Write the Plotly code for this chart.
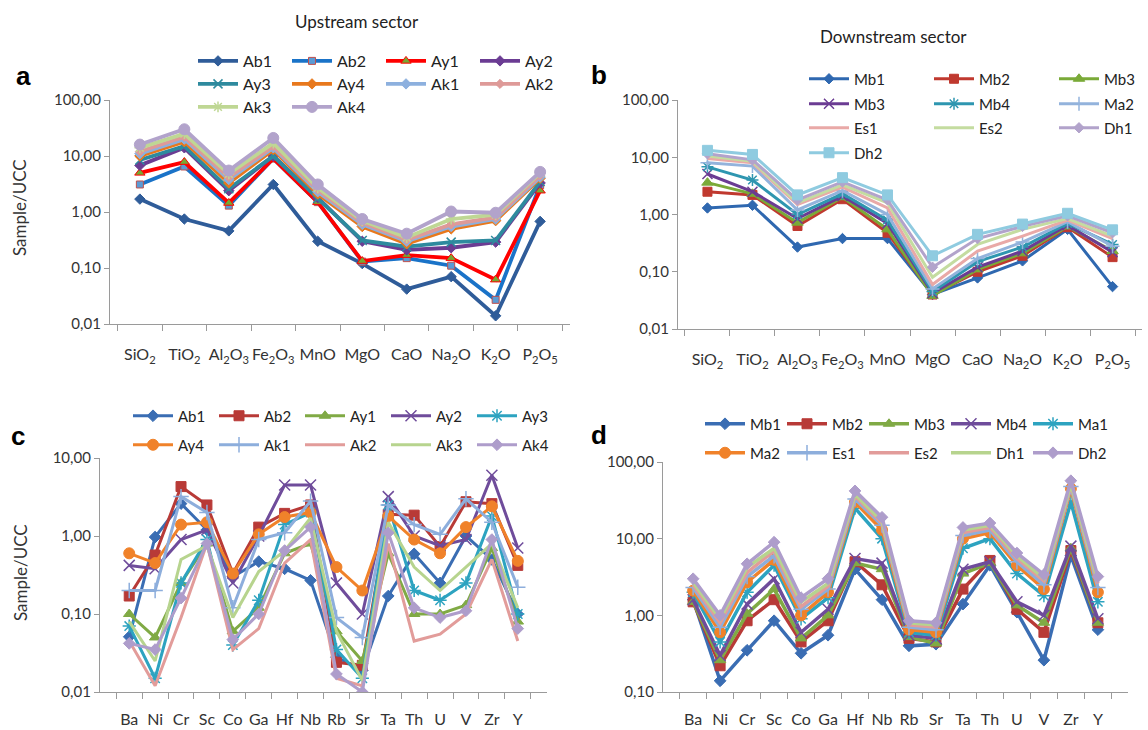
import plotly.graph_objects as go

W, H = 1148, 730

# ---------------- categories ----------------
major_cats = ["SiO<sub>2</sub>", "TiO<sub>2</sub>", "Al<sub>2</sub>O<sub>3</sub>", "Fe<sub>2</sub>O<sub>3</sub>",
              "MnO", "MgO", "CaO", "Na<sub>2</sub>O", "K<sub>2</sub>O", "P<sub>2</sub>O<sub>5</sub>"]
trace_cats = ["Ba", "Ni", "Cr", "Sc", "Co", "Ga", "Hf", "Nb", "Rb", "Sr", "Ta", "Th", "U", "V", "Zr", "Y"]

# ---------------- panel a : upstream, major elements ----------------
a_names = ["Ab1", "Ab2", "Ay1", "Ay2", "Ay3", "Ay4", "Ak1", "Ak2", "Ak3", "Ak4"]
a_Ab1 = [1.7, 0.75, 0.46, 3.1, 0.30, 0.12, 0.042, 0.07, 0.014, 0.68]
a_Ab2 = [3.1, 6.5, 1.3, 9.0, 1.5, 0.13, 0.15, 0.11, 0.027, 3.0]
a_Ay1 = [5.0, 7.8, 1.45, 9.0, 1.5, 0.133, 0.17, 0.15, 0.062, 2.4]
a_Ay2 = [6.8, 14.0, 2.4, 10.0, 1.8, 0.30, 0.21, 0.23, 0.29, 3.3]
a_Ay3 = [8.5, 15.0, 2.6, 10.0, 1.75, 0.31, 0.24, 0.29, 0.31, 3.5]
a_Ay4 = [10.0, 18.0, 3.3, 13.0, 2.1, 0.55, 0.27, 0.50, 0.70, 4.0]
a_Ak1 = [11.0, 20.0, 3.8, 14.0, 2.3, 0.60, 0.30, 0.55, 0.75, 4.2]
a_Ak2 = [12.0, 22.0, 4.2, 15.0, 2.5, 0.65, 0.32, 0.60, 0.80, 4.5]
a_Ak3 = [14.0, 25.0, 4.8, 17.0, 2.7, 0.70, 0.35, 0.75, 0.90, 5.0]
a_Ak4 = [16.0, 30.0, 5.5, 21.0, 3.1, 0.75, 0.41, 1.02, 0.97, 5.2]

# ---------------- panel b : downstream, major elements ----------------
b_names = ["Mb1", "Mb2", "Mb3", "Mb3 ", "Mb4", "Ma2", "Es1", "Es2", "Dh1", "Dh2"]
b_Mb1 = [1.3, 1.45, 0.27, 0.38, 0.38, 0.040, 0.078, 0.155, 0.55, 0.055]
b_Mb2 = [2.5, 2.2, 0.63, 1.85, 0.48, 0.040, 0.10, 0.19, 0.60, 0.18]
b_Mb3 = [3.6, 2.3, 0.72, 2.0, 0.55, 0.038, 0.11, 0.21, 0.62, 0.23]
b_Mb3b = [5.1, 2.5, 0.85, 2.1, 0.70, 0.042, 0.12, 0.23, 0.65, 0.22]
b_Mb4 = [6.8, 4.0, 1.0, 2.3, 0.80, 0.045, 0.15, 0.27, 0.70, 0.30]
b_Ma2 = [8.0, 7.0, 1.2, 2.6, 1.0, 0.050, 0.17, 0.33, 0.75, 0.28]
b_Es1 = [9.5, 8.0, 1.5, 3.0, 1.3, 0.060, 0.23, 0.42, 0.80, 0.38]
b_Es2 = [10.5, 8.5, 1.6, 3.3, 1.6, 0.080, 0.30, 0.55, 0.85, 0.42]
b_Dh1 = [11.5, 9.0, 1.8, 3.7, 1.8, 0.12, 0.38, 0.62, 0.95, 0.48]
b_Dh2 = [13.2, 11.2, 2.2, 4.4, 2.2, 0.19, 0.45, 0.68, 1.05, 0.54]

# ---------------- panel c : upstream, trace elements ----------------
c_names = ["Ab1", "Ab2", "Ay1", "Ay2", "Ay3", "Ay4", "Ak1", "Ak2", "Ak3", "Ak4"]
c_Ab1 = [0.051, 0.97, 2.6, 1.2, 0.30, 0.47, 0.38, 0.27, 0.028, 0.019, 0.17, 0.59, 0.25, 1.0, 0.5, 0.10]
c_Ab2 = [0.17, 0.57, 4.3, 2.5, 0.33, 1.3, 1.95, 2.5, 0.024, 0.022, 1.9, 1.85, 0.73, 2.75, 2.6, 0.42]
c_Ay1 = [0.10, 0.05, 0.25, 0.8, 0.06, 0.12, 0.6, 0.8, 0.06, 0.025, 0.6, 0.10, 0.10, 0.13, 0.7, 0.08]
c_Ay2 = [0.42, 0.38, 0.9, 1.2, 0.25, 1.0, 4.5, 4.5, 0.25, 0.10, 3.2, 1.0, 0.75, 0.9, 6.0, 0.7]
c_Ay3 = [0.07, 0.015, 0.25, 0.9, 0.04, 0.15, 1.4, 2.0, 0.035, 0.015, 2.5, 0.20, 0.15, 0.25, 1.8, 0.10]
c_Ay4 = [0.60, 0.45, 1.4, 1.5, 0.33, 1.05, 1.75, 2.0, 0.40, 0.20, 1.8, 0.9, 0.60, 1.3, 2.4, 0.48]
c_Ak1 = [0.20, 0.20, 3.2, 2.0, 0.12, 0.9, 1.1, 2.8, 0.09, 0.05, 2.5, 1.4, 1.05, 3.0, 1.5, 0.22]
c_Ak2 = [0.045, 0.012, 0.09, 0.8, 0.035, 0.065, 0.45, 0.9, 0.015, 0.012, 0.8, 0.045, 0.055, 0.10, 0.5, 0.045]
c_Ak3 = [0.08, 0.025, 0.5, 0.75, 0.09, 0.35, 0.65, 1.7, 0.06, 0.014, 1.5, 0.40, 0.20, 0.40, 0.8, 0.12]
c_Ak4 = [0.042, 0.035, 0.16, 0.8, 0.047, 0.10, 0.65, 1.3, 0.017, 0.010, 1.1, 0.12, 0.09, 0.11, 0.9, 0.065]

# ---------------- panel d : downstream, trace elements ----------------
d_names = ["Mb1", "Mb2", "Mb3", "Mb4", "Ma1", "Ma2", "Es1", "Es2", "Dh1", "Dh2"]
d_Mb1 = [1.6, 0.14, 0.35, 0.85, 0.32, 0.55, 4.0, 1.6, 0.40, 0.42, 1.4, 4.5, 1.1, 0.26, 6.0, 0.65]
d_Mb2 = [1.5, 0.22, 0.85, 1.6, 0.45, 0.85, 5.0, 2.5, 0.50, 0.45, 2.2, 5.2, 1.2, 0.60, 7.0, 0.80]
d_Mb3 = [1.5, 0.26, 1.05, 2.2, 0.50, 1.0, 4.8, 4.0, 0.52, 0.43, 3.5, 4.8, 1.35, 0.80, 7.5, 0.80]
d_Mb4 = [1.6, 0.30, 1.4, 3.0, 0.60, 1.2, 5.5, 4.8, 0.55, 0.50, 4.0, 5.0, 1.5, 1.0, 8.0, 0.90]
d_Ma1 = [2.0, 0.45, 2.0, 4.5, 0.90, 1.7, 25.0, 10.0, 0.60, 0.55, 7.5, 10.0, 3.5, 1.8, 30.0, 1.5]
d_Ma2 = [2.1, 0.60, 2.7, 5.3, 1.0, 2.0, 30.0, 13.0, 0.65, 0.60, 10.0, 12.0, 4.5, 2.2, 45.0, 2.0]
d_Es1 = [2.3, 0.70, 3.2, 6.0, 1.2, 2.2, 33.0, 15.0, 0.70, 0.65, 11.0, 13.0, 5.0, 2.5, 48.0, 2.3]
d_Es2 = [2.5, 0.80, 3.6, 7.0, 1.3, 2.4, 36.0, 16.0, 0.75, 0.70, 12.0, 14.0, 5.5, 2.8, 50.0, 2.6]
d_Dh1 = [2.7, 0.90, 4.2, 7.5, 1.5, 2.6, 38.0, 17.0, 0.80, 0.75, 13.0, 15.0, 6.0, 3.0, 52.0, 2.8]
d_Dh2 = [3.0, 1.0, 4.7, 9.0, 1.7, 3.0, 42.0, 19.0, 0.85, 0.80, 14.0, 16.0, 6.5, 3.4, 57.0, 3.2]

# y tick labels
ytick_vals = [0.01, 0.1, 1, 10, 100]
ytick_text = ["0,01", "0,10", "1,00", "10,00", "100,00"]

FONT = "Lato, 'Open Sans', sans-serif"
AXC = "#9a9a9a"
TXT = "#333333"

fig = go.Figure()


def add_series(x, y, name, xa, ya, leg, color, symbol, msize, mcolor=None, mline=None, lw=3.5, mlw=1):
    mode = "lines+markers" if symbol else "lines"
    marker = dict(size=msize, color=mcolor or color, symbol=symbol or "circle",
                  line=dict(color=mline or (mcolor or color), width=mlw))
    fig.add_trace(go.Scatter(x=x, y=y, name=name.strip(), mode=mode, xaxis=xa, yaxis=ya,
                             line=dict(color=color, width=lw), marker=marker, legend=leg,
                             showlegend=True))


# ---- panel a styles
a_data = [a_Ab1, a_Ab2, a_Ay1, a_Ay2, a_Ay3, a_Ay4, a_Ak1, a_Ak2, a_Ak3, a_Ak4]
a_col = ["#2F5C99", "#1A73C8", "#FF0000", "#6B3C93", "#2E8A9E", "#E8781C", "#8DB0DE", "#DE9A98", "#BFD794", "#B2A3CB"]
a_sym = ["diamond", "square", "triangle-up", "diamond", "x-thin-open", "diamond", "diamond", "diamond", "asterisk-open", "circle"]
a_msz = [8, 7, 9, 8, 9, 8, 8, 7, 9, 11]
a_mcol = [None, "#5B9BD5", "#77A833", None, None, None, None, None, None, None]
a_mline = [None, "#C0504D", "#FF0000", None, None, None, None, None, None, None]
a_leg = ["legend"] * 4 + ["legend2"] * 4 + ["legend3"] * 2
for i in range(10):
    add_series(major_cats, a_data[i], a_names[i], "x", "y", a_leg[i], a_col[i], a_sym[i], a_msz[i],
               a_mcol[i], a_mline[i], lw=3.8, mlw=1.5 if a_sym[i] in ("x-thin-open", "asterisk-open") else 1)

# ---- panel b styles
b_data = [b_Mb1, b_Mb2, b_Mb3, b_Mb3b, b_Mb4, b_Ma2, b_Es1, b_Es2, b_Dh1, b_Dh2]
b_col = ["#2F68B0", "#C0392F", "#7AAA38", "#6B3C93", "#2E96B0", "#93B3DC", "#E9A9A7", "#C4DCA0", "#B2A3CB", "#8FCBE0"]
b_sym = ["diamond", "square", "triangle-up", "x-thin-open", "asterisk-open", "cross-thin-open", None, None, "diamond", "square"]
b_msz = [8, 9, 10, 10, 10, 10, 0, 0, 8, 10]
b_leg = ["legend4"] * 3 + ["legend5"] * 3 + ["legend6"] * 3 + ["legend7"]
for i in range(10):
    add_series(major_cats, b_data[i], b_names[i], "x2", "y2", b_leg[i], b_col[i], b_sym[i], b_msz[i],
               lw=3, mlw=1.5 if b_sym[i] and "open" in b_sym[i] else 1)

# ---- panel c styles
c_data = [c_Ab1, c_Ab2, c_Ay1, c_Ay2, c_Ay3, c_Ay4, c_Ak1, c_Ak2, c_Ak3, c_Ak4]
c_col = ["#3A6DB3", "#B83A37", "#80AA45", "#6F4C9B", "#2DA3C0", "#F0822A", "#8DAEDC", "#E29C9A", "#B7D48E", "#AE9DCB"]
c_sym = ["diamond", "square", "triangle-up", "x-thin-open", "asterisk-open", "circle", "cross-thin-open", None, None, "diamond"]
c_msz = [9, 10, 10, 11, 11, 11, 11, 0, 0, 9]
c_leg = ["legend8"] * 5 + ["legend9"] * 5
for i in range(10):
    add_series(trace_cats, c_data[i], c_names[i], "x3", "y3", c_leg[i], c_col[i], c_sym[i], c_msz[i],
               lw=3, mlw=1.5 if c_sym[i] and "open" in c_sym[i] else 1)

# ---- panel d styles
d_data = [d_Mb1, d_Mb2, d_Mb3, d_Mb4, d_Ma1, d_Ma2, d_Es1, d_Es2, d_Dh1, d_Dh2]
d_leg = ["legend10"] * 5 + ["legend11"] * 5
for i in range(10):
    add_series(trace_cats, d_data[i], d_names[i], "x4", "y4", d_leg[i], c_col[i], c_sym[i], c_msz[i],
               lw=3.5, mlw=1.5 if c_sym[i] and "open" in c_sym[i] else 1)


def xax(domain, anchor, standoff):
    return dict(domain=domain, anchor=anchor, type="category", tickson="boundaries", ticks="outside",
                ticklen=6, tickcolor=AXC, showline=True, linecolor=AXC, linewidth=1.3, showgrid=False,
                zeroline=False, tickangle=0, ticklabelstandoff=standoff, automargin=False,
                tickfont=dict(family=FONT, size=16, color=TXT), fixedrange=True)


def yax(domain, anchor, rng):
    return dict(domain=domain, anchor=anchor, type="log", range=rng, tickvals=ytick_vals, ticktext=ytick_text,
                ticks="outside", ticklen=5, tickcolor=AXC, showline=True, linecolor=AXC, linewidth=1.3,
                showgrid=False, zeroline=False, automargin=False,
                tickfont=dict(family=FONT, size=15, color=TXT), fixedrange=True)


def fx(p):
    return p / W


def fy(p):
    return 1 - p / H


def leg(x, y, size, ew, iw=40):
    return dict(x=fx(x), y=fy(y), xanchor="left", yanchor="middle", orientation="h", entrywidth=ew,
                itemwidth=iw, font=dict(family=FONT, size=size, color="#222"), bgcolor="rgba(0,0,0,0)",
                tracegroupgap=0, itemclick=False, itemdoubleclick=False)


def note(text, x, y, size, family=FONT, color="#222", angle=0):
    return dict(text=text, x=fx(x), y=fy(y), xref="paper", yref="paper", showarrow=False,
                xanchor="center", yanchor="middle", textangle=angle,
                font=dict(family=family, size=size, color=color))


LETTER = "Liberation Sans, Arial"
layout = dict(
    width=W, height=H, margin=dict(l=0, r=0, t=0, b=0, autoexpand=False),
    paper_bgcolor="white", plot_bgcolor="white", font=dict(family=FONT, color=TXT),
    xaxis=xax([fx(110), fx(570)], "y", 16),
    yaxis=yax([fy(324), fy(100)], "x", [-2, 2]),
    xaxis2=xax([fx(678), fx(1142)], "y2", 16),
    yaxis2=yax([fy(329), fy(100)], "x2", [-2, 2]),
    xaxis3=xax([fx(100), fx(547)], "y3", 13),
    yaxis3=yax([fy(692), fy(458)], "x3", [-2, 1]),
    xaxis4=xax([fx(663), fx(1128)], "y4", 13),
    yaxis4=yax([fy(692), fy(462)], "x4", [-1, 2]),
    legend=leg(193, 61, 16, 39),
    legend2=leg(193, 84, 16, 39),
    legend3=leg(193, 107, 16, 39),
    legend4=leg(804, 79, 15, 70),
    legend5=leg(804, 104, 15, 70),
    legend6=leg(804, 128, 15, 70),
    legend7=leg(804, 153, 15, 70),
    legend8=leg(128, 416, 15, 31),
    legend9=leg(128, 445, 15, 31),
    legend10=leg(700, 424, 15, 27),
    legend11=leg(700, 453, 15, 27),
    annotations=[
        note("Upstream sector", 357, 22, 17),
        note("Downstream sector", 893, 36, 17),
        note("<b>a</b>", 23, 76, 26, LETTER, "black"),
        note("<b>b</b>", 599, 75, 26, LETTER, "black"),
        note("<b>c</b>", 18, 436, 26, LETTER, "black"),
        note("<b>d</b>", 599, 435, 26, LETTER, "black"),
        note("Sample/UCC", 20, 208, 17, FONT, TXT, -90),
        note("Sample/UCC", 20, 573, 17, FONT, TXT, -90),
    ],
)
fig.update_layout(**layout)
fig.write_html("out.html")
